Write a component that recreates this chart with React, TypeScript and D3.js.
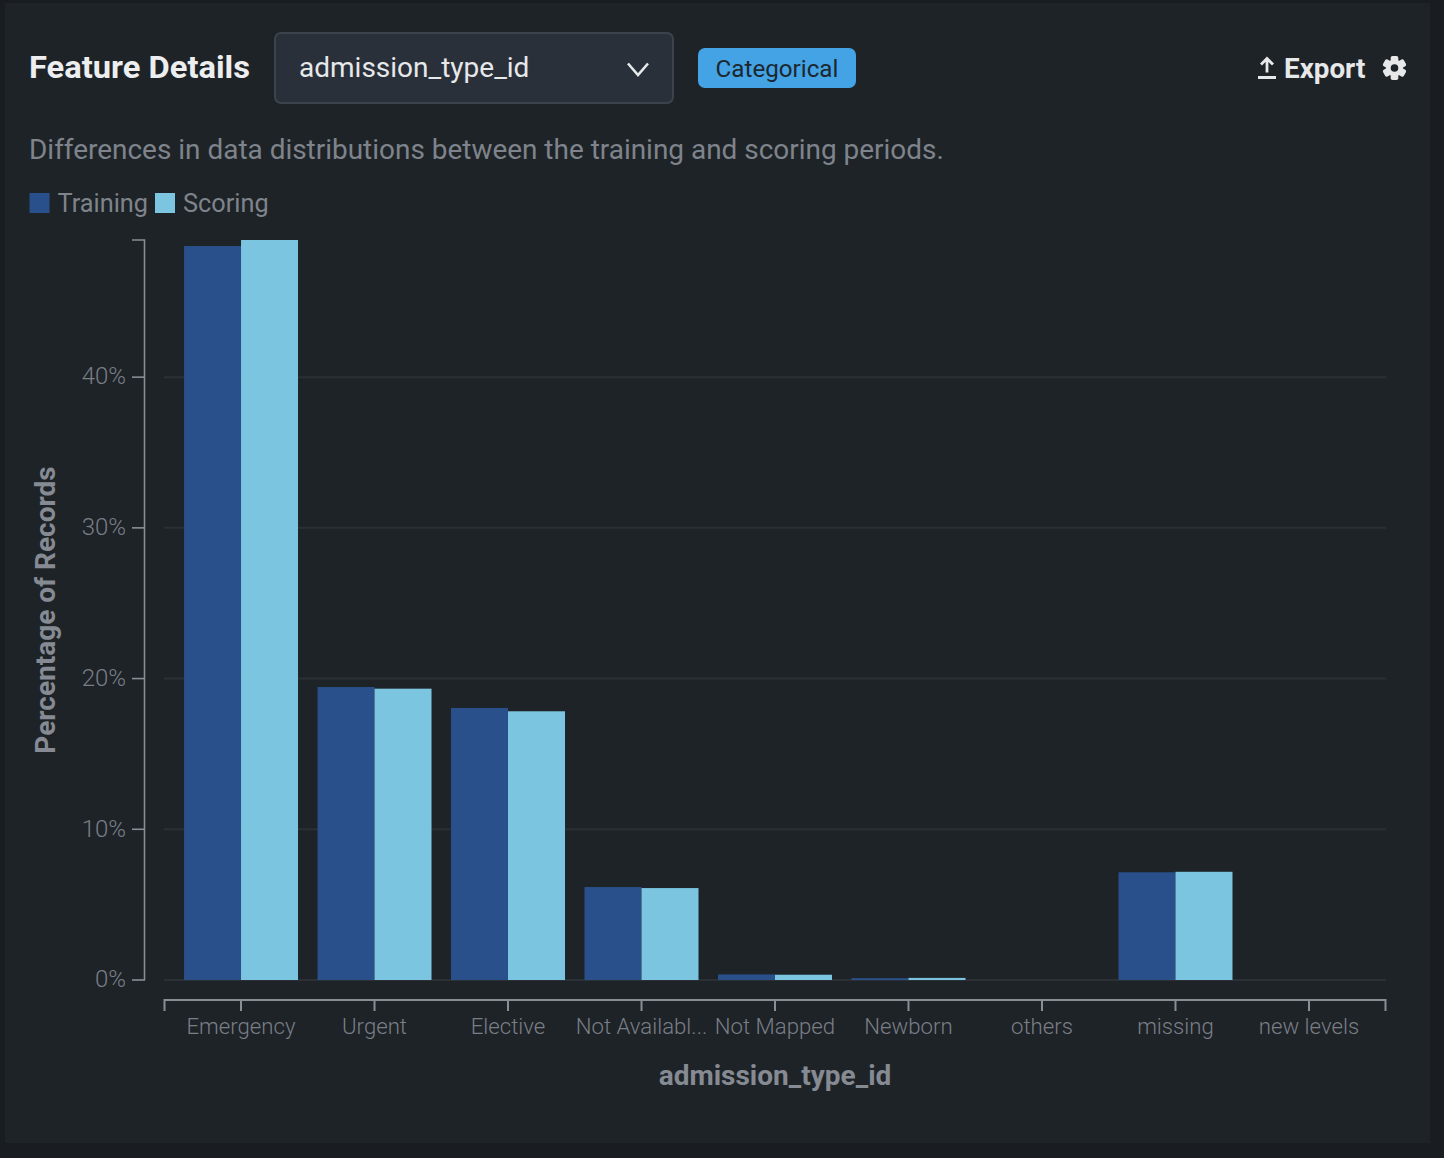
import React from "react";
import * as d3 from "d3";

const categories = ["Emergency", "Urgent", "Elective", "Not Availabl...", "Not Mapped", "Newborn", "others", "missing", "new levels"];
const trainingValues = [48.7, 19.44, 18.05, 6.17, 0.37, 0.12, 0, 7.15, 0];
const scoringValues = [49.1, 19.33, 17.83, 6.1, 0.35, 0.14, 0, 7.18, 0];
const yTicks = [0, 10, 20, 30, 40];
const seriesNames = ["Training", "Scoring"];
const seriesColors = ["#29508a", "#7bc5e0"];

const font = "Roboto, sans-serif";
const axisCol = "#8a8d96";
const labelCol = "#7a7e87";

export default function App() {
  const y = d3.scaleLinear().domain([0, 49.1]).range([980, 240]);
  const x0 = d3.scaleBand<string>().domain(categories).range([164, 1386]).paddingInner(0.146).paddingOuter(0.15);
  const x1 = d3.scaleBand<string>().domain(seriesNames).range([0, x0.bandwidth()]);
  const series = [trainingValues, scoringValues];
  const gear = d3.range(3).map((i) => i * 60);
  return (
    <svg width={1444} height={1158} style={{ position: "absolute", left: 0, top: 0, fontFamily: font }}>
      <rect width={1444} height={1158} fill="#191d21" />
      <rect x={5} y={3} width={1425} height={1140} fill="#1e2327" />

      <text x={29} y={78} fontSize={31.5} fontWeight={700} fill="#eceef0" textLength={221} lengthAdjust="spacingAndGlyphs">Feature Details</text>
      <rect x={275} y={33} width={398} height={70} rx={6} fill="#2a303a" stroke="#3d424c" strokeWidth={2} />
      <text x={299} y={77} fontSize={28} fill="#e6e8ea">admission_type_id</text>
      <path d="M628,63.5 L638,75 L648,63.5" fill="none" stroke="#e6e8ea" strokeWidth={2.6} />
      <rect x={698} y={48} width={158} height={40} rx={7} fill="#43a3e5" />
      <text x={777} y={76.5} fontSize={24.2} textAnchor="middle" fill="#1d2730">Categorical</text>

      <path d="M1258,77.5 H1276 M1267,72.5 V58.5 M1261,64.5 L1267,58.5 L1273,64.5" fill="none" stroke="#e6e8ea" strokeWidth={2.8} />
      <text x={1284} y={78} fontSize={27.8} fontWeight={700} fill="#e6e8ea">Export</text>
      <g transform="translate(1394.5,68)" fill="#e6e8ea">
        {gear.map((a) => <rect key={a} x={-3.8} y={-12} width={7.6} height={24} rx={1.8} transform={`rotate(${a})`} />)}
        <circle r={8.4} />
        <circle r={3.8} fill="#1e2327" />
      </g>

      <text x={29} y={159} fontSize={27.95} fill="#7f838c">Differences in data distributions between the training and scoring periods.</text>

      {seriesNames.map((s, i) => {
        const xs = [29.5, 155][i];
        return (
          <g key={s}>
            <rect x={xs} y={193} width={20} height={20} fill={seriesColors[i]} />
            <text x={[57.5, 183][i]} y={212} fontSize={25.3} fill="#7f838c">{s}</text>
          </g>
        );
      })}

      {yTicks.map((t) => (
        <g key={t}>
          <line x1={164} x2={1386} y1={y(t)} y2={y(t)} stroke="#2b3037" strokeWidth={2} />
          <line x1={132} x2={145} y1={y(t)} y2={y(t)} stroke={axisCol} strokeWidth={1.6} />
          <text x={126} y={y(t) + 7.3} fontSize={24} fontWeight={300} textAnchor="end" fill={labelCol}>{t}%</text>
        </g>
      ))}
      <path d={`M132,${y(49.1)} H144.5 V${y(0)}`} fill="none" stroke={axisCol} strokeWidth={1.6} />

      {seriesNames.map((s, i) =>
        categories.map((c, j) => {
          const v = series[i][j];
          if (v <= 0) return null;
          return <rect key={s + c} x={x0(c)! + x1(s)!} y={y(v)} width={x1.bandwidth()} height={y(0) - y(v)} fill={seriesColors[i]} />;
        })
      )}

      <path d="M164.5,1011 V1000 H1385.5 V1011" fill="none" stroke={axisCol} strokeWidth={2} />
      {categories.map((c) => {
        const cx = x0(c)! + x0.bandwidth() / 2;
        return (
          <g key={c}>
            <line x1={cx} x2={cx} y1={1000} y2={1011} stroke={axisCol} strokeWidth={2} />
            <text x={cx} y={1034} fontSize={22.2} fontWeight={300} textAnchor="middle" fill={labelCol}>{c}</text>
          </g>
        );
      })}

      <text x={775} y={1085} fontSize={28} fontWeight={700} textAnchor="middle" fill="#868a93">admission_type_id</text>
      <text transform="translate(55,610) rotate(-90)" fontSize={28} fontWeight={700} textAnchor="middle" fill="#868a93">Percentage of Records</text>
    </svg>
  );
}
